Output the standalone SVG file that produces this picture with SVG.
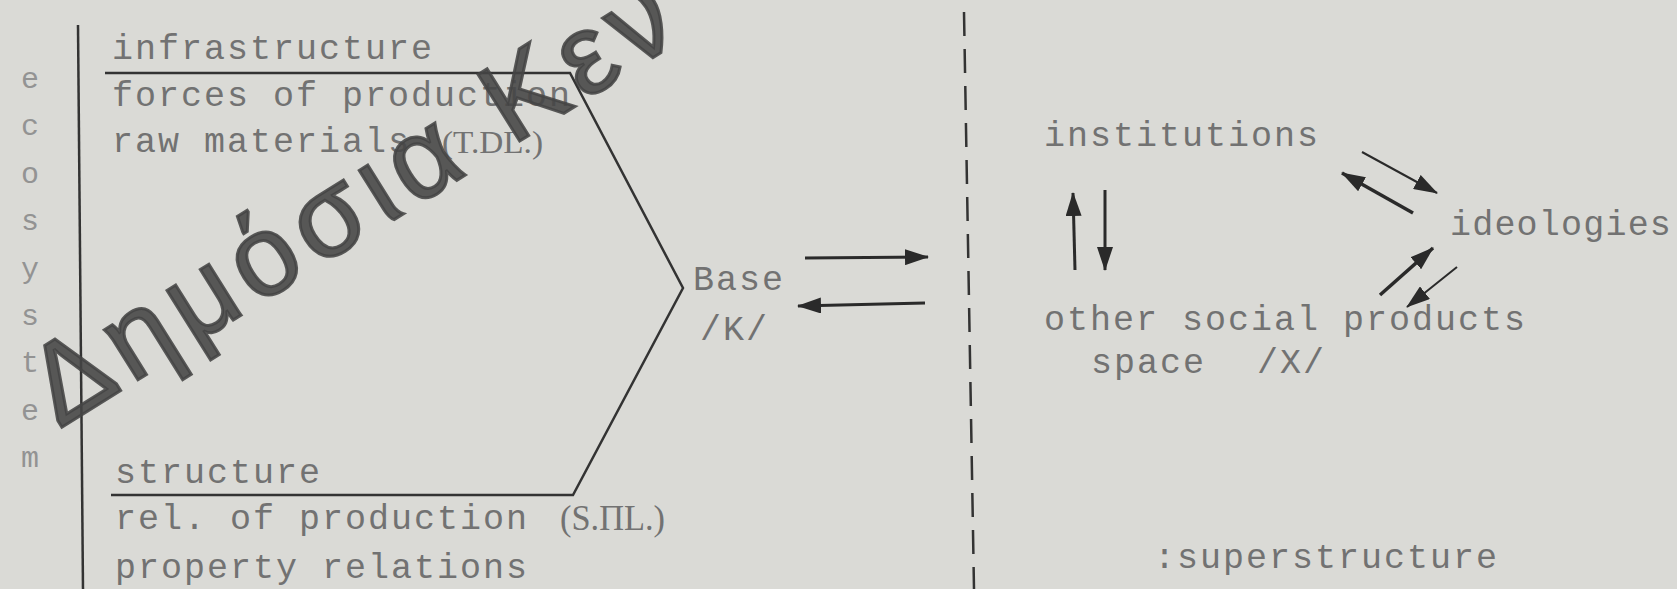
<svg xmlns="http://www.w3.org/2000/svg" width="1677" height="589" viewBox="0 0 1677 589">
<defs>
<marker id="ah" markerUnits="userSpaceOnUse" markerWidth="24" markerHeight="16" refX="23" refY="8" orient="auto">
<path d="M0,0 L24,8 L0,16 z" fill="#2a2a2a"/>
</marker>
<style>
.tw{font-family:"Liberation Mono","DejaVu Sans Mono",monospace;font-size:35px;letter-spacing:2px;fill:#727272}
.ab{font-family:"Liberation Serif",serif;fill:#727272}
.eco{font-family:"Liberation Mono",monospace;font-size:30px;fill:#939393;text-anchor:middle}
.ln{stroke:#333;stroke-width:2.5;fill:none}
.ar{stroke:#2a2a2a;fill:none;marker-end:url(#ah)}
</style>
</defs>
<rect width="1677" height="589" fill="#dadad6"/>
<g id="ecosystem">
<line class="ln" x1="78" y1="25" x2="83" y2="589"/>
<text class="eco" x="30" y="88">e</text>
<text class="eco" x="30" y="135">c</text>
<text class="eco" x="30" y="183">o</text>
<text class="eco" x="30" y="230">s</text>
<text class="eco" x="30" y="278">y</text>
<text class="eco" x="30" y="325">s</text>
<text class="eco" x="30" y="372">t</text>
<text class="eco" x="30" y="420">e</text>
<text class="eco" x="30" y="467">m</text>
</g>
<g id="base-block">
<polyline class="ln" points="105,73 570,73 683,288 573,495 111,495"/>
<text class="tw" x="112" y="59">infrastructure</text>
<text class="tw" x="112" y="106">forces of production</text>
<text class="tw" x="112" y="152">raw materials</text>
<text class="ab" x="442" y="153" font-size="32" textLength="101" lengthAdjust="spacingAndGlyphs">(T.DL.)</text>
<text class="tw" x="115" y="483">structure</text>
<text class="tw" x="115" y="529">rel. of production</text>
<text class="ab" x="560" y="530" font-size="36" textLength="105" lengthAdjust="spacingAndGlyphs">(S.ΠL.)</text>
<text class="tw" x="115" y="578">property relations</text>
</g>
<g id="base">
<text class="tw" x="693" y="290">Base</text>
<text class="tw" x="700" y="340">/K/</text>
</g>
<g id="institutions">
<text class="tw" x="1044" y="146">institutions</text>
</g>
<g id="ideologies">
<text class="tw" x="1450" y="235" style="letter-spacing:1.2px">ideologies</text>
</g>
<g id="other-social-products">
<text class="tw" x="1044" y="330">other social products</text>
<text class="tw" x="1091" y="373">space</text>
<text class="tw" x="1257" y="373">/X/</text>
</g>
<g id="superstructure">
<text class="tw" x="1154" y="568">:superstructure</text>
</g>
<g id="connectors">
<line x1="964" y1="12" x2="974" y2="589" stroke="#333" stroke-width="2.5" stroke-dasharray="24 13"/>
<line class="ar" stroke-width="3" x1="805" y1="258" x2="928" y2="257"/>
<line class="ar" stroke-width="3" x1="925" y1="303" x2="798" y2="306"/>
<line class="ar" stroke-width="3" x1="1075" y1="270" x2="1073" y2="193"/>
<line class="ar" stroke-width="3" x1="1105" y1="190" x2="1105" y2="270"/>
<line class="ar" stroke-width="2" x1="1362" y1="152" x2="1437" y2="193"/>
<line class="ar" stroke-width="3.5" x1="1413" y1="213" x2="1342" y2="173"/>
<line class="ar" stroke-width="3.5" x1="1380" y1="295" x2="1433" y2="248"/>
<line class="ar" stroke-width="2" x1="1457" y1="267" x2="1407" y2="307"/>
</g>
<g id="watermark">
<text x="59" y="429" transform="rotate(-32 59 429)" font-family="Liberation Sans, Arial, sans-serif" font-size="114" letter-spacing="9" fill="#444" fill-opacity="0.88" stroke="#444" stroke-opacity="0.88" stroke-width="3">Δημόσια Κεν</text>
</g>
</svg>
